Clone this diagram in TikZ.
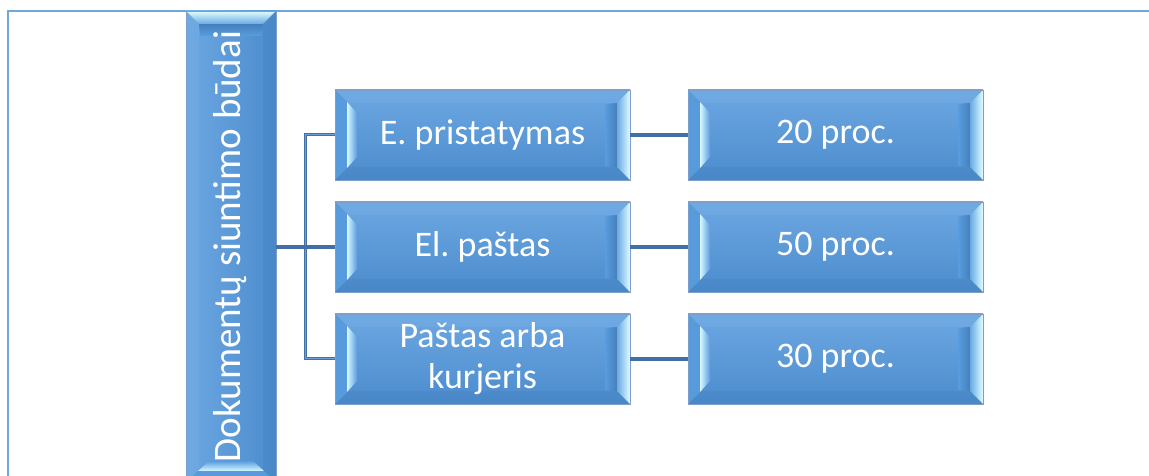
\documentclass[tikz,border=0pt]{standalone}
\usepackage{fontspec}
\setmainfont{Carlito}
\frenchspacing
\definecolor{bTop}{RGB}{108,167,225}
\definecolor{bMid}{RGB}{88,157,224}
\definecolor{bBot}{RGB}{76,140,206}
\definecolor{bDark}{RGB}{70,126,186}
\definecolor{bLight}{RGB}{116,172,228}
\definecolor{bEdge}{RGB}{70,130,192}
\definecolor{sliverL}{RGB}{215,248,255}
\definecolor{rightA}{RGB}{105,170,228}
\definecolor{rightB}{RGB}{225,252,255}
\definecolor{bordC}{RGB}{125,158,205}
\definecolor{connD}{RGB}{66,112,166}
\definecolor{connL}{RGB}{112,158,210}
\definecolor{frameC}{RGB}{112,166,220}
\newcommand\mybevH{%
  \fill[bevlight] (pb.north west) -- (pb.north east) -- ([shift={(-13,-13)}]pb.north east) -- ([shift={(13,-13)}]pb.north west) -- cycle;
  \fill[bevdark] (pb.south west) -- (pb.south east) -- ([shift={(-13,13)}]pb.south east) -- ([shift={(13,13)}]pb.south west) -- cycle;
  \fill[bevmid] (pb.south west) -- (pb.north west) -- ([shift={(13,-13)}]pb.north west) -- ([shift={(13,13)}]pb.south west) -- cycle;
  \shade[left color=sliverL, right color=bMid] ([shift={(12,-12)}]pb.north west) -- ([shift={(22,-23)}]pb.north west) -- ([shift={(22,23)}]pb.south west) -- ([shift={(12,12)}]pb.south west) -- cycle;
  \shade[left color=bMid, right color=bDark] ([shift={(-25,-14)}]pb.north east) -- ([shift={(-13,-13)}]pb.north east) -- ([shift={(-13,13)}]pb.south east) -- ([shift={(-25,14)}]pb.south east) -- cycle;
  \shade[left color=rightA, right color=rightB] (pb.north east) -- ([shift={(-13,-13)}]pb.north east) -- ([shift={(-13,13)}]pb.south east) -- (pb.south east) -- cycle;
}
\newcommand\mybevV{%
  \fill[bevlight] (pb.south west) -- (pb.north west) -- ([shift={(13,-13)}]pb.north west) -- ([shift={(13,13)}]pb.south west) -- cycle;
  \fill[bevdark] (pb.south east) -- (pb.north east) -- ([shift={(-13,-13)}]pb.north east) -- ([shift={(-13,13)}]pb.south east) -- cycle;
  \fill[bevmid] (pb.south west) -- (pb.south east) -- ([shift={(-13,13)}]pb.south east) -- ([shift={(13,13)}]pb.south west) -- cycle;
  \shade[bottom color=sliverL, top color=bMid] ([shift={(12,12)}]pb.south west) -- ([shift={(-12,12)}]pb.south east) -- ([shift={(-23,22)}]pb.south east) -- ([shift={(23,22)}]pb.south west) -- cycle;
  \shade[bottom color=bMid, top color=bDark] ([shift={(14,-25)}]pb.north west) -- ([shift={(13,-13)}]pb.north west) -- ([shift={(-13,-13)}]pb.north east) -- ([shift={(-14,-25)}]pb.north east) -- cycle;
  \shade[bottom color=rightA, top color=rightB] (pb.north west) -- (pb.north east) -- ([shift={(-13,-13)}]pb.north east) -- ([shift={(13,-13)}]pb.north west) -- cycle;
}
\tikzset{
  bevlight/.style={fill=bLight, fill opacity=0.5},
  bevdark/.style={fill=bEdge, fill opacity=0.4},
  bevmid/.style={fill=bMid!92!bDark},
  fit-free/.style={rectangle, inner sep=0pt, outer sep=0pt, minimum width=295pt, minimum height=90pt},
  box/.style={rectangle, draw=bordC, line width=0.8pt, top color=bTop, middle color=bMid, bottom color=bBot,
    text=white, font=\fontsize{36pt}{41pt}\selectfont, align=center, inner sep=0pt, outer sep=0pt,
    minimum width=295pt, minimum height=90pt,
    path picture={\node[fit-free] (pb) at (path picture bounding box.center) {}; \mybevH}},
  rootbox/.style={rectangle, draw=bordC, line width=0.8pt, left color=bTop, middle color=bMid, right color=bBot,
    inner sep=0pt, outer sep=0pt, minimum width=90pt, minimum height=472pt,
    path picture={\node[fit-free, minimum width=90pt, minimum height=472pt] (pb) at (path picture bounding box.center) {}; \mybevV}},
  roottext/.style={rotate=90, text=white, font=\fontsize{39pt}{46pt}\selectfont, inner sep=0pt},
  conn/.style={draw=connD, line width=4pt},
  bracket/.style={draw=connD, line width=1pt, double=connL, double distance=1pt},
  frame/.style={draw=frameC, line width=2pt},
}
\begin{document}
\begin{tikzpicture}[x=1pt, y=1pt]
\useasboundingbox (0,0) rectangle (1149,476);
\clip (0,0) rectangle (1149,476);
\fill[white] (0,0) rectangle (1149,476);
% outer frame
\coordinate (fb) at (8,-20);
\coordinate (ft) at (8,465);
\coordinate (fr) at (1180,465);
\draw[frame] (fb) -- (ft) -- (fr);
% root
\node[rootbox] (root) at (231,229) {};
\node[roottext] (rt) at (230,229.5) {Dokumentų siuntimo būdai};
% children
\node[box] (c1) at (482.5,341) {E. pristatymas};
\node[box] (c2) at (482.5,229) {El. paštas};
\node[box] (c3) at (482.5,117) {Paštas arba\\kurjeris};
\node[box] (r1) at (835.5,341) {20 proc.};
\node[box] (r2) at (835.5,229) {50 proc.};
\node[box] (r3) at (835.5,117) {30 proc.};
% connectors
\draw[bracket] (c1.west) -- ++(-30,0) |- (c3.west);
\draw[conn] (root.east) -- (c2.west);
\draw[conn] (c1.east) -- (r1.west);
\draw[conn] (c2.east) -- (r2.west);
\draw[conn] (c3.east) -- (r3.west);
\end{tikzpicture}
\end{document}
